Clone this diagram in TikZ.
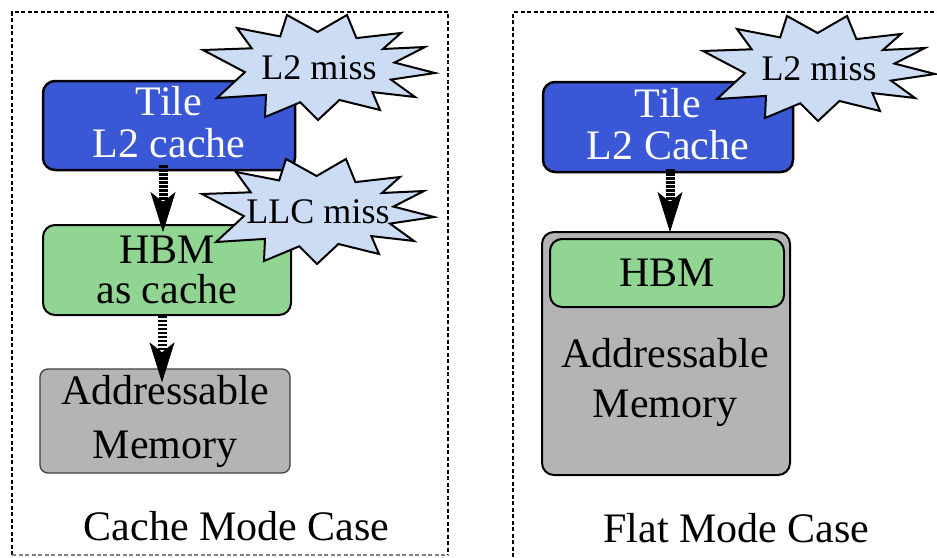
\documentclass[tikz,border=0pt]{standalone}
\usepackage{fontspec}
\setmainfont{Liberation Serif}
\usetikzlibrary{arrows.meta}
\definecolor{tileblue}{RGB}{58,87,214}
\definecolor{hbmgreen}{RGB}{144,214,146}
\definecolor{burstfill}{RGB}{204,220,245}
\definecolor{memgray}{RGB}{180,180,180}
\newcommand\drawburst[1]{\draw[burst, shift={(#1)}] (-82,-40) -- (-38.8,-31.6) -- (-32,-53) -- (-1.4,-36) -- (28,-53) -- (37.4,-29.9) -- (82,-35) -- (63.9,-19) -- (106,-21) -- (75.5,-5.4) -- (116,5) -- (72,11.6) -- (96,29) -- (53.4,24.1) -- (61,42) -- (20.4,32) -- (-1,52) -- (-18.7,34.3) -- (-54,49) -- (-53,26.9) -- (-102,30) -- (-74.1,4.1) -- (-116,-18) -- (-67.3,-19.7) -- cycle;}
\begin{document}
\begin{tikzpicture}[x=1pt,y=-1pt,
  tilebox/.style={draw=black, line width=2.5pt, fill=tileblue, rounded corners=12pt, text=white, align=center, font=\fontsize{42}{42}\selectfont, inner sep=0pt, text depth=7pt},
  hbmbox/.style={draw=black, line width=2pt, fill=hbmgreen, rounded corners=12pt, align=center, inner sep=0pt},
  membox/.style={draw=black!75, line width=1.3pt, fill=memgray, rounded corners=8pt, align=center, inner sep=0pt},
  burst/.style={draw=black, line width=2pt, fill=burstfill, line join=miter},
  bursttext/.style={font=\fontsize{36}{36}\selectfont, inner sep=0pt},
  frame/.style={line width=1.3pt, dash pattern=on 4pt off 2.5pt},
  caption/.style={font=\fontsize{42}{42}\selectfont, anchor=base, inner sep=0pt},
  bigarrow/.style={line width=9pt, dash pattern=on 2.4pt off 1.6pt, -{Stealth[length=40pt,width=25pt,inset=10pt,line width=0.6pt]}}
]
\useasboundingbox (0,0) rectangle (937,557);
\clip (0,0) rectangle (937,557);
\fill[white] (0,0) rectangle (937,557);
% frames
\draw[frame] (12,555) -- (12,12) -- (448,12) -- (448,555);
\draw[frame, gray] (12,555) -- (448,555);
\draw[frame] (513,570) -- (513,12) -- (960,12);
% left column
\node[tilebox, minimum width=252pt, minimum height=89pt] (tileA) at (169,125.5) {Tile\\L2 cache};
\node[hbmbox, minimum width=248pt, minimum height=90pt, font=\fontsize{42}{40}\selectfont] (hbmA) at (167,270) {HBM\\as cache};
\node[membox, minimum width=250pt, minimum height=104pt, font=\fontsize{42}{54}\selectfont] (addrA) at (165,421) {Addressable\\Memory};
\coordinate (xa) at (163,0);
\coordinate (xb) at (162,0);
\draw[bigarrow, shorten <=-6pt, shorten >=-8pt] (tileA.south -| xa) -- (hbmA.north -| xa);
\draw[bigarrow, shorten >=-14pt] (hbmA.south -| xb) -- (addrA.north -| xb);
\coordinate (burstA) at (319,68);
\drawburst{burstA}
\node[bursttext] (missA) at (burstA) {L2 miss};
\coordinate (burstB) at (318,212);
\drawburst{burstB}
\node[bursttext] (missB) at (burstB) {LLC miss};
\node[caption] (capA) at (236.5,540) {Cache Mode Case};
% right column
\node[tilebox, minimum width=250pt, minimum height=90pt] (tileB) at (668,127) {Tile\\L2 Cache};
\node[membox, draw=black, line width=2pt, rounded corners=12pt, minimum width=248pt, minimum height=243pt] (memB) at (666,353.5) {};
\node[hbmbox, minimum width=234pt, minimum height=68pt, font=\fontsize{42}{42}\selectfont] (hbmB) at (667,273) {HBM};
\node[font=\fontsize{42}{50}\selectfont, align=center, inner sep=0pt] (addrB) at (665,382.2) {Addressable\\Memory};
\coordinate (xc) at (670,0);
\draw[bigarrow, shorten <=-4pt, shorten >=-1pt] (tileB.south -| xc) -- (memB.north -| xc);
\coordinate (burstC) at (819,69);
\drawburst{burstC}
\node[bursttext] (missC) at (burstC) {L2 miss};
\node[caption] (capB) at (736.5,542) {Flat Mode Case};
\end{tikzpicture}
\end{document}
